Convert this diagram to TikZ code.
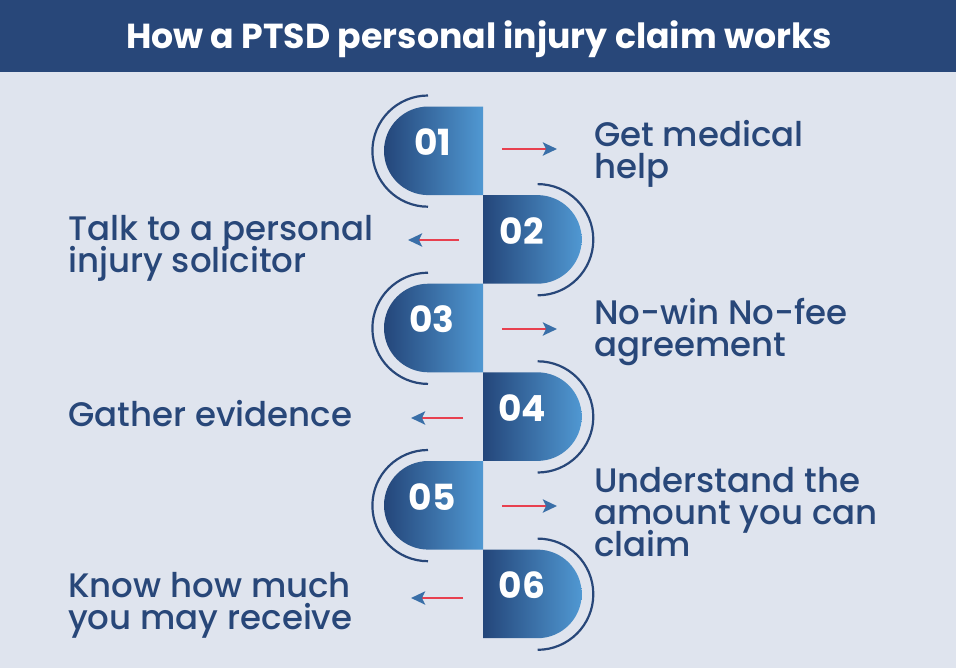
\documentclass[tikz,border=0pt]{standalone}
\usepackage{fontspec}
\setmainfont{Poppins}
\newfontfamily\stepfont{Poppins Medium}
\usetikzlibrary{arrows.meta}
\setlength{\lineskiplimit}{-20pt}
\definecolor{headblue}{HTML}{284779}
\definecolor{paleblue}{HTML}{DFE4EE}
\definecolor{capdark}{HTML}{24467A}
\definecolor{caplight}{HTML}{5098D2}
\definecolor{linkred}{HTML}{E8404F}
\definecolor{tipblue}{HTML}{3A6FA8}
\tikzset{
 steptext/.style={anchor=base west,align=left,inner sep=0pt,text=headblue,font=\stepfont\fontsize{34}{32}\selectfont},
 stepnum/.style={anchor=base,text=white,inner sep=0pt,font=\bfseries\fontsize{36}{36}\selectfont},
 steparc/.style={draw=headblue,line width=2.2pt},
 steplink/.style={draw=linkred,line width=2.8pt,-{Stealth[inset=3pt,length=14pt,width=13pt,color=tipblue]}},
}
\begin{document}
\begin{tikzpicture}[x=1pt,y=-1pt]
 \useasboundingbox (0,0) rectangle (956,670);
 \fill[paleblue](0,0) rectangle (956,668);
 \fill[headblue](0,0) rectangle (956,72);
 \node (title) at (479,48) [anchor=base,text=white,inner sep=0pt,font=\bfseries\fontsize{34.7}{35}\selectfont] {How a PTSD personal injury claim works};
 % left capsules
 \foreach \nr/\top/\numx in {01/106.5/433,03/283.7/432,05/461/432}{
  \shade[left color=capdark,right color=caplight](483,\top) -- (483,\top+88.6) -- (428.3,\top+88.6) arc (90:270:44.3) -- cycle;
  \draw[steparc](428,\top-11) arc (270:90:55.6);
  \node[stepnum] (num\nr) at (\numx,\top+49) {\nr};
 }
 % right capsules
 \foreach \nr/\top/\numx in {02/195.1/522,04/372.3/522,06/549.6/522}{
  \shade[left color=capdark,right color=caplight](483,\top) -- (483,\top+88.6) -- (537.4,\top+88.6) arc (90:-90:44.3) -- cycle;
  \draw[steparc](537.7,\top-11) arc (-90:90:55.6);
  \node[stepnum] (num\nr) at (\numx,\top+49) {\nr};
 }
 \node[steptext] (step1) at (594,178) {Get medical\\help};
 \node[steptext] (step2) at (68,272) {Talk to a personal\\injury solicitor};
 \node[steptext] (step3) at (594,356) {No-win No-fee\\agreement};
 \node[steptext] (step4) at (68,426) {Gather evidence};
 \node[steptext] (step5) at (594,556) {Understand the\\amount you can\\claim};
 \node[steptext] (step6) at (68,629) {Know how much\\you may receive};
 % links
 \coordinate (from1) at (502,149);
 \coordinate (to1) at (557,149);
 \coordinate (from2) at (459,240);
 \coordinate (to2) at (408,240);
 \coordinate (from3) at (502,329);
 \coordinate (to3) at (557,329);
 \coordinate (from4) at (463,418);
 \coordinate (to4) at (411,418);
 \coordinate (from5) at (502,506);
 \coordinate (to5) at (557,506);
 \coordinate (from6) at (463,598);
 \coordinate (to6) at (411,598);
 \foreach \i in {1,...,6}
  \draw[steplink](from\i) -- (to\i);
\end{tikzpicture}
\end{document}
